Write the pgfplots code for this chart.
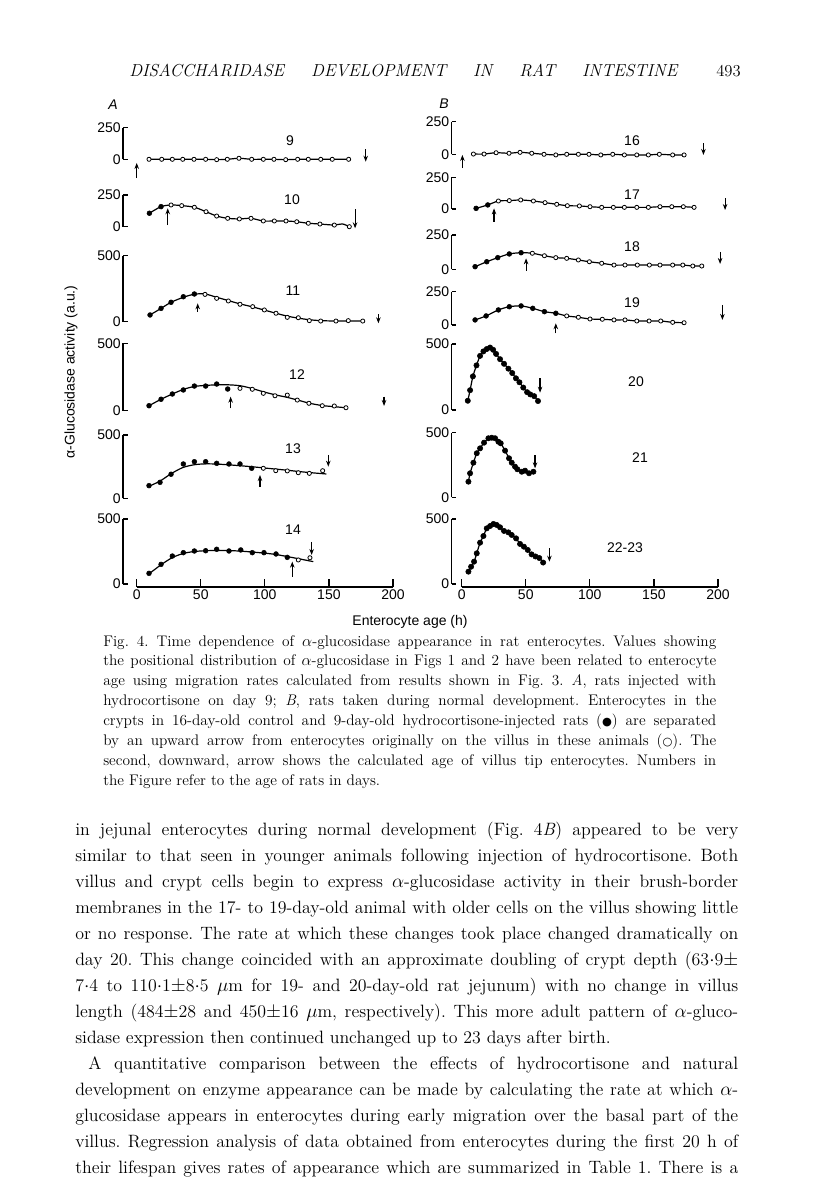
\documentclass[border=0pt]{standalone}
\usepackage{fontspec}
\usepackage{graphicx}
\usepackage{pgfplots}
\pgfplotsset{compat=1.18}
\usetikzlibrary{arrows.meta}
\newfontfamily\figfont{Liberation Sans}
\newfontfamily\symfont{DejaVu Sans}
% one justified line of given width
\newcommand\jl[2]{\hbox to #1{\frenchspacing\spaceskip=0.33em plus 1fil minus 0.14em\relax #2}}
\newcommand\ff{\figfont\fontsize{10.5}{11}\selectfont}
\newcommand\pd{${\cdot}$}

\pgfplotsset{
  panel/.style={scale only axis, clip=false, hide x axis, axis y line*=left,
    ymin=0, xmax=200, tick align=inside, major tick length=3.5pt,
    axis line style={line width=0.9pt}, major tick style={line width=0.9pt, black},
    yticklabel style={font=\ff, inner sep=1.5pt},
    /pgf/number format/assume math mode=true},
  pA/.style 2 args={panel, xmin=-10.7, width=202.5pt, at={(123*0.75pt,-#1*0.75pt)}, anchor=south west, height=#2},
  pB/.style 2 args={panel, xmin=-8, width=199.9pt, at={(451.5*0.75pt,-#1*0.75pt)}, anchor=south west, height=#2},
  r250/.style={ymax=250, ytick={0,250}},
  r500/.style={ymax=500, ytick={0,500}},
  fit/.style={smooth, tension=0.5, no marks, line width=0.9pt, black},
  crypt/.style={only marks, mark=*, mark size=1.8pt, black},
  vil/.style={only marks, mark=*, mark size=1.55pt, mark options={fill=white, draw=black, line width=0.6pt}},
  xbase/.style={scale only axis, hide y axis, axis x line*=bottom, ymin=0, ymax=1,
    xmin=0, xmax=200, width=192.2pt, height=10pt, xtick={0,50,...,200},
    tick align=inside, major tick length=6pt, anchor=south west,
    axis line style={line width=0.9pt}, major tick style={line width=0.9pt, black},
    xticklabel style={font=\ff, inner sep=2pt},
    /pgf/number format/assume math mode=true},
}
\tikzset{arr/.style={-{Stealth[length=4.5pt,width=3.4pt]}, line width=0.85pt}}

\begin{document}
\begin{tikzpicture}[x=0.75pt, y=-0.75pt]
\path[use as bounding box, fill=white] (0,0) rectangle (816,1201);

% running head
\node[anchor=base west, inner sep=0, font=\fontsize{13}{15}\selectfont] at (129,77)
  {\hbox to 411pt{\itshape\addfontfeatures{LetterSpace=22}DISACCHARIDASE\hskip 5pt plus 1fil minus 5pt DEVELOPMENT\hskip 5pt plus 1fil minus 5pt IN\hskip 5pt plus 1fil minus 5pt RAT\hskip 5pt plus 1fil minus 5pt INTESTINE}};
\node[anchor=base west, inner sep=0, font=\fontsize{12.5}{14}\selectfont] at (716,77) {493};

% ---------------- column A ----------------
\begin{axis}[pA={159.3}{23.7pt}, r250]
\addplot[fit] coordinates {(9.6,0) (19.5,0) (27.8,0) (35.9,0) (44.7,0) (53.8,0) (62.4,-3) (70.7,0) (79.8,8) (89.7,0) (98.8,0) (107.1,0) (116.3,-3) (125.6,0) (133.9,0) (143.6,0) (152.6,0) (165.4,0)};
\addplot[vil] coordinates {(9.6,0) (19.5,0) (27.8,0) (35.9,0) (44.7,0) (53.8,0) (62.4,-3) (70.7,0) (79.8,8) (89.7,0) (98.8,0) (107.1,0) (116.3,-3) (125.6,0) (133.9,0) (143.6,0) (152.6,0) (165.4,0)};
\draw[arr] (axis cs:0,-148) -- (axis cs:0,-29);
\draw[arr] (axis cs:178.7,81) -- (axis cs:178.7,-19);
\end{axis}

\begin{axis}[pA={226.7}{23.8pt}, r250]
\addplot[fit] coordinates {(9.9,106) (19.0,158) (26.8,171) (35.1,166) (45.0,153) (54.1,118) (62.4,84) (71.0,66) (80.1,61) (89.2,66) (98.8,45) (107.4,45) (116.5,45) (124.9,39) (133.9,27) (143.0,21) (154.2,13) (160.5,22) (165.9,0)};
\addplot[crypt] coordinates {(9.9,106) (19.0,158)};
\addplot[vil] coordinates {(26.8,171) (35.1,166) (45.0,153) (54.1,118) (62.4,84) (71.0,66) (80.1,61) (89.2,66) (98.8,45) (107.4,45) (116.5,45) (124.9,39) (133.9,27) (143.0,21) (154.2,13) (165.9,0)};
\draw[arr] (axis cs:24.2,13) -- (axis cs:24.2,145);
\draw[arr] (axis cs:170.4,137) -- (axis cs:170.4,-13);
\end{axis}

\begin{axis}[pA={321.7}{49.5pt}, r500]
\addplot[fit] coordinates {(10.4,51) (19,101) (26.8,147) (36.4,185) (45,208) (53.3,210) (62.4,185) (71.5,160) (80.6,135) (90.5,112) (99.6,88) (108.7,64) (117.5,42) (126.1,27) (134.7,15) (143.6,8) (155.5,5) (165.1,5) (176.4,5)};
\addplot[crypt] coordinates {(10.4,51) (19.0,101) (26.8,147) (36.4,189) (45.0,210)};
\addplot[vil] coordinates {(53.3,207) (62.4,177) (71.5,157) (80.6,132) (90.5,114) (99.6,89) (108.7,64) (117.5,33) (126.1,30) (134.7,8) (143.6,5) (155.5,5) (165.1,8) (176.4,5)};
\draw[arr] (axis cs:47.6,76) -- (axis cs:47.6,139);
\draw[arr] (axis cs:188.6,58) -- (axis cs:188.6,-12);
\end{axis}

\begin{axis}[pA={410.7}{50.5pt}, r500]
\addplot[fit] coordinates {(9.6,37) (19,85) (27.8,124) (36.4,158) (45,180) (54,188) (63,192) (72,192) (81,185) (90,165) (99,140) (108,118) (117,100) (126,78) (135,55) (145,38) (154,30) (163.3,22)};
\addplot[crypt] coordinates {(9.6,37) (19.0,85) (27.8,124) (36.4,154) (45.0,183) (53.8,183) (62.4,198) (71.0,161)};
\addplot[vil] coordinates {(80.6,166) (90.2,159) (98.8,129) (107.9,111) (117.5,116) (125.3,79) (134.4,55) (144.8,37) (154.2,35) (163.3,22)};
\draw[arr] (axis cs:73.3,18) -- (axis cs:73.3,104);
\draw[arr] (axis cs:193,104) -- (axis cs:193,35);
\end{axis}

\begin{axis}[pA={498.3}{47.5pt}, r500]
\addplot[fit] coordinates {(9.6,95) (18,135) (27,195) (36,243) (45,265) (54,272) (63,270) (72,264) (81,257) (90,249) (99,240) (108,231) (117,222) (126,212) (135,203) (148,192)};
\addplot[crypt] coordinates {(9.6,100) (18.2,126) (26.8,190) (36.4,271) (45.0,289) (53.8,289) (62.4,276) (72.0,271) (80.6,271) (89.7,237)};
\addplot[vil] coordinates {(98.8,237) (108.5,218) (117.5,216) (126.1,202) (134.7,197) (145.1,218)};
\draw[arr] (axis cs:96.2,92) -- (axis cs:96.2,184);
\draw[arr] (axis cs:149.5,342) -- (axis cs:149.5,250);
\end{axis}

\begin{axis}[pA={584}{48.75pt}, r500]
\addplot[fit] coordinates {(9.6,78) (19,148) (27.8,203) (36.4,235) (45,250) (54,256) (63,258) (72,257) (81,253) (90,246) (99,238) (108,228) (117,212) (126,195) (137.8,172)};
\addplot[crypt] coordinates {(9.6,82) (19.0,151) (27.8,215) (36.4,241) (45.0,254) (53.8,256) (62.4,267) (72.0,254) (81.2,262) (90.2,241) (99.3,241) (108.7,231) (117.5,205)};
\addplot[vil] coordinates {(126.1,185) (135.2,202)};
\draw[arr] (axis cs:121.4,56) -- (axis cs:121.4,172);
\draw[arr] (axis cs:136.5,325) -- (axis cs:136.5,223);
\end{axis}

\begin{axis}[xbase, at={(136.7*0.75pt,-587*0.75pt)}]
\end{axis}

% ---------------- column B ----------------
\begin{axis}[pB={154.3}{24.45pt}, r250]
\addplot[fit] coordinates {(9.1,2) (17.4,2) (26.8,12) (36.9,8) (45.5,15) (54.6,8) (64.2,0) (73.4,-5) (81.9,0) (91.0,0) (99.3,0) (108.5,-5) (117.8,0) (126.9,-5) (136.6,-5) (145.6,-5) (154.2,0) (164.6,-5) (173.5,-5)};
\addplot[vil] coordinates {(9.1,2) (17.4,2) (26.8,12) (36.9,8) (45.5,15) (54.6,8) (64.2,0) (73.4,-5) (81.9,0) (91.0,0) (99.3,0) (108.5,-5) (117.8,0) (126.9,-5) (136.6,-5) (145.6,-5) (154.2,0) (164.6,-5) (173.5,-5)};
\draw[arr] (axis cs:0.5,-107) -- (axis cs:0.5,-5);
\draw[arr] (axis cs:188.6,84) -- (axis cs:188.6,-5);
\end{axis}

\begin{axis}[pB={209}{23.8pt}, r250]
\addplot[fit] coordinates {(11.2,5) (20.3,32) (28.6,63) (37.1,66) (46.0,71) (55.9,63) (65.0,50) (74.1,37) (82.4,26) (91.8,24) (100.1,18) (109.2,13) (118.3,13) (126.9,13) (136.6,13) (145.6,13) (154.7,18) (163.9,18) (172.9,18) (181.3,13)};
\addplot[crypt] coordinates {(11.2,5) (20.3,32)};
\addplot[vil] coordinates {(28.6,63) (37.1,66) (46.0,71) (55.9,63) (65.0,50) (74.1,37) (82.4,26) (91.8,24) (100.1,18) (109.2,13) (118.3,13) (126.9,13) (136.6,13) (145.6,13) (154.7,18) (163.9,18) (172.9,18) (181.3,13)};
\draw[arr] (axis cs:25.2,-100) -- (axis cs:25.2,5);
\draw[arr] (axis cs:205.5,84) -- (axis cs:205.5,-8);
\end{axis}

\begin{axis}[pB={269.3}{25.7pt}, r250]
\addplot[fit] coordinates {(10.4,19) (19.5,55) (28.1,85) (37.1,112) (46.3,121) (55.1,117) (64.5,99) (73.4,85) (81.9,80) (91.0,68) (99.6,55) (109.2,44) (118.8,31) (127.4,31) (137.0,31) (146.4,31) (154.7,31) (164.6,31) (172.5,31) (180.3,24) (187.3,24)};
\addplot[crypt] coordinates {(10.4,19) (19.5,55) (28.1,85) (37.1,112) (46.3,121)};
\addplot[vil] coordinates {(55.1,117) (64.5,99) (73.4,85) (81.9,80) (91.0,68) (99.6,55) (109.2,44) (118.8,31) (127.4,31) (137.0,31) (146.4,31) (154.7,31) (164.6,31) (172.5,31) (180.3,24) (187.3,24)};
\draw[arr] (axis cs:50.2,-10) -- (axis cs:50.2,80);
\draw[arr] (axis cs:201.6,128) -- (axis cs:201.6,39);
\end{axis}

\begin{axis}[pB={325}{25pt}, r250]
\addplot[fit] coordinates {(10.4,38) (19.0,68) (28.6,113) (37.1,137) (46.3,143) (55.4,125) (64.5,100) (73.4,88) (81.9,68) (91.0,58) (100.1,45) (109.7,43) (118.8,38) (127.4,38) (136.6,30) (146.2,30) (155.3,30) (164.6,20) (173.5,17)};
\addplot[crypt] coordinates {(10.4,38) (19.0,68) (28.6,113) (37.1,137) (46.3,143) (55.4,125) (64.5,100) (73.4,88)};
\addplot[vil] coordinates {(81.9,68) (91.0,58) (100.1,45) (109.7,43) (118.8,38) (127.4,38) (136.6,30) (146.2,30) (155.3,30) (164.6,20) (173.5,17)};
\draw[arr] (axis cs:73.4,-62) -- (axis cs:73.4,13);
\draw[arr] (axis cs:203.4,150) -- (axis cs:203.4,38);
\end{axis}

\begin{axis}[pB={410}{49.5pt}, r500]
\addplot[fit] coordinates {(4.7,70) (6.5,150) (8.7,255) (11.5,338) (14.3,410) (16.9,444) (19.5,462) (22.1,473) (24.5,456) (26.8,425) (29.9,385) (33.0,350) (36.4,313) (39.4,280) (42.3,240) (45.0,210) (48.0,170) (51.0,135) (53.5,118) (56.5,105) (59.5,68)};
\addplot[crypt, mark size=2pt] coordinates {(4.7,70) (6.5,150) (8.7,255) (11.5,338) (14.3,410) (16.9,444) (19.5,462) (22.1,473) (24.5,456) (26.8,425) (29.9,385) (33.0,350) (36.4,313) (39.4,280) (42.3,240) (45.0,210) (48.0,170) (51.0,135) (53.5,118) (56.5,105) (59.5,68)};
\draw[arr] (axis cs:61.1,240) -- (axis cs:61.1,131);
\end{axis}

\begin{axis}[pB={497.3}{48.45pt}, r500]
\addplot[fit] coordinates {(5.2,121) (6.5,186) (9.1,268) (11.7,341) (14.3,379) (17.4,423) (20.8,457) (23.4,461) (26.0,457) (28.6,430) (30.4,418) (33.8,361) (36.9,302) (39.0,268) (41.6,237) (43.4,217) (46.8,198) (49.4,206) (52.5,186) (55.9,198)};
\addplot[crypt, mark size=2pt] coordinates {(5.2,121) (6.5,186) (9.1,268) (11.7,341) (14.3,379) (17.4,423) (20.8,457) (23.4,461) (26.0,457) (28.6,430) (30.4,418) (33.8,361) (36.9,302) (39.0,268) (41.6,237) (43.4,217) (46.8,198) (49.4,206) (52.5,186) (55.9,198)};
\draw[arr] (axis cs:57.2,327) -- (axis cs:57.2,224);
\end{axis}

\begin{axis}[pB={584}{48.75pt}, r500]
\addplot[fit] coordinates {(5.2,95) (7.3,133) (9.6,172) (11.7,236) (14.3,318) (16.9,369) (19.5,428) (22.1,446) (24.7,462) (27.3,454) (29.9,436) (33.0,408) (36.4,397) (39.0,377) (42.4,351) (45.5,308) (48.5,287) (51.5,262) (54.5,228) (57.5,212) (60.5,200) (63.5,165)};
\addplot[crypt, mark size=2pt] coordinates {(5.2,95) (7.3,133) (9.6,172) (11.7,236) (14.3,318) (16.9,369) (19.5,428) (22.1,446) (24.7,462) (27.3,454) (29.9,436) (33.0,408) (36.4,397) (39.0,377) (42.4,351) (45.5,308) (48.5,287) (51.5,262) (54.5,228) (57.5,212) (60.5,200) (63.5,165)};
\draw[arr] (axis cs:68.4,275) -- (axis cs:68.4,172);
\end{axis}

\begin{axis}[xbase, at={(461.7*0.75pt,-587*0.75pt)}]
\end{axis}

% figure labels
\begin{scope}[every node/.style={font=\ff, inner sep=0}]
\node at (113,105) {\itshape A};
\node at (444,104) {\itshape B};
\node at (290,141) {9};
\node at (292,200) {10};
\node at (293,291) {11};
\node at (297,375) {12};
\node at (293,449) {13};
\node at (293,530) {14};
\node at (632,141) {16};
\node at (632,195) {17};
\node at (632,247) {18};
\node at (632,303) {19};
\node at (636,382) {20};
\node at (640,458) {21};
\node at (625,548) {22-23};
\node[rotate=90] at (71,372) {α-Glucosidase activity (a.u.)};
\node at (410,622) {Enterocyte age (h)};
\end{scope}

% caption
\begin{scope}[every node/.style={anchor=base west, inner sep=0, font=\fontsize{11.5}{15}\selectfont}]
\node at (103,646) {\jl{459.75pt}{Fig. 4. Time dependence of $\alpha$-glucosidase appearance in rat enterocytes. Values showing}};
\node at (103,665.9) {\jl{459.75pt}{the positional distribution of $\alpha$-glucosidase in Figs 1 and 2 have been related to enterocyte}};
\node at (103,685.7) {\jl{459.75pt}{age using migration rates calculated from results shown in Fig. 3. \textit{A}, rats injected with}};
\node at (103,705.6) {\jl{459.75pt}{hydrocortisone on day 9; \textit{B}, rats taken during normal development. Enterocytes in the}};
\node at (103,725.4) {\jl{459.75pt}{crypts in 16-day-old control and 9-day-old hydrocortisone-injected rats ({\symfont\fontsize{8.5}{9}\selectfont ●}) are separated}};
\node at (103,745.3) {\jl{459.75pt}{by an upward arrow from enterocytes originally on the villus in these animals ({\symfont\fontsize{8.5}{9}\selectfont ○}). The}};
\node at (103,765.1) {\jl{459.75pt}{second, downward, arrow shows the calculated age of villus tip enterocytes. Numbers in}};
\node at (103,785) {\frenchspacing the Figure refer to the age of rats in days.};
\end{scope}

% body text
\begin{scope}[every node/.style={anchor=base west, inner sep=0, font=\fontsize{13.4}{19.5}\selectfont}]
\node at (75,835) {\jl{497.25pt}{in jejunal enterocytes during normal development (Fig. 4\textit{B}) appeared to be very}};
\node at (75,861) {\jl{497.25pt}{similar to that seen in younger animals following injection of hydrocortisone. Both}};
\node at (75,887) {\jl{497.25pt}{villus and crypt cells begin to express $\alpha$-glucosidase activity in their brush-border}};
\node at (75,913) {\jl{497.25pt}{membranes in the 17- to 19-day-old animal with older cells on the villus showing little}};
\node at (75,939) {\jl{497.25pt}{or no response. The rate at which these changes took place changed dramatically on}};
\node at (75,965) {\jl{497.25pt}{day 20. This change coincided with an approximate doubling of crypt depth (63\pd9$\pm$}};
\node at (75,991) {\jl{497.25pt}{7\pd4 to 110\pd1$\pm$8\pd5 $\mu$m for 19- and 20-day-old rat jejunum) with no change in villus}};
\node at (75,1017) {\jl{497.25pt}{length (484$\pm$28 and 450$\pm$16 $\mu$m, respectively). This more adult pattern of $\alpha$-gluco-}};
\node at (75,1043) {\frenchspacing sidase expression then continued unchanged up to 23 days after birth.};
\node at (88,1069) {\jl{487.5pt}{A quantitative comparison between the effects of hydrocortisone and natural}};
\node at (75,1095) {\jl{497.25pt}{development on enzyme appearance can be made by calculating the rate at which $\alpha$-}};
\node at (75,1121) {\jl{497.25pt}{glucosidase appears in enterocytes during early migration over the basal part of the}};
\node at (75,1147) {\jl{497.25pt}{villus. Regression analysis of data obtained from enterocytes during the first 20 h of}};
\node at (75,1173) {\jl{497.25pt}{their lifespan gives rates of appearance which are summarized in Table 1. There is a}};
\end{scope}
\end{tikzpicture}
\end{document}
